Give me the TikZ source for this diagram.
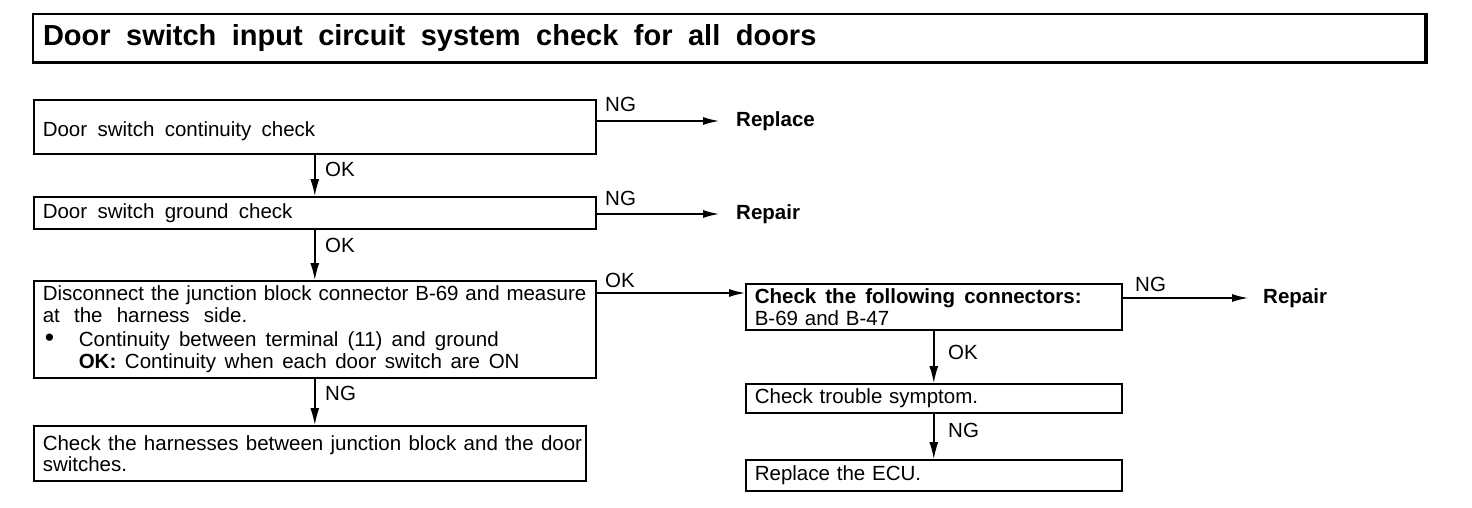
\documentclass[tikz,border=0pt]{standalone}
\usepackage{fontspec}
\setmainfont{Liberation Sans}
\usetikzlibrary{arrows.meta,calc}
\newcommand{\wsp}[2]{{\spaceskip=#1\relax #2}}
\begin{document}
\begin{tikzpicture}[x=1pt,y=-1pt,
  box/.style={draw,line width=1.6pt,anchor=north west,align=left,inner xsep=9pt,inner ysep=0pt,
    font=\fontsize{20.5}{22}\selectfont},
  lbl/.style={font=\fontsize{20.5}{22}\selectfont,inner sep=0pt,anchor=west},
  res/.style={font=\fontsize{20.5}{22}\selectfont\bfseries,inner sep=0pt,anchor=west},
  arr/.style={line width=1.4pt,-{Latex[length=16pt,width=8pt]}},
  varr/.style={line width=1.4pt,-{Latex[length=17pt,width=9pt]}},
]
\useasboundingbox (0,0) rectangle (1472,508);

% title
\node[draw,line width=2pt,anchor=north west,minimum width=1392pt,minimum height=48pt,
      text width=1372pt,inner xsep=10pt,align=left,
      font=\fontsize{29}{30}\selectfont\bfseries] (title) at (32,13)
      {\wsp{15.5pt}{Door switch input circuit system check for all doors}};
\draw[line width=3pt] (title.north east) -- (title.south east) -- (title.south west);

% left column
\node[box,text width=544pt,minimum height=54pt] (b1) at (33,99)
  {\raisebox{-10pt}[0pt][0pt]{\wsp{10.3pt}{Door switch continuity check}}};
\node[box,text width=544pt,minimum height=32pt] (b2) at (33,196)
  {\wsp{10.3pt}{Door switch ground check}};
\node[box,text width=544pt,minimum height=97pt] (b3) at (33,280)
  {\mbox{Disconnect the junction block connector B-69 and measure}\\
   \wsp{14.2pt}{at the harness side.}\\[2pt]
   \makebox[36pt][l]{\hspace{2pt}\raisebox{0pt}[0pt][0pt]{\scalebox{1.3}{\textbullet}}}\wsp{9.1pt}{Continuity between terminal (11) and ground}\\
   \hspace*{36pt}\wsp{8.6pt}{\textbf{OK:} Continuity when each door switch are ON}};
\node[box,text width=534pt,minimum height=55pt] (b7) at (33,425)
  {\mbox{\wsp{7.3pt}{Check the harnesses between junction block and the door}}\\[-1pt] switches.};

% right column
\node[box,text width=358pt,minimum height=46pt] (b4) at (745,283)
  {\wsp{9.1pt}{\textbf{Check the following connectors:}}\\ B-69 and B-47};
\node[box,text width=358pt,minimum height=29pt] (b5) at (745,383) {Check trouble symptom.};
\node[box,text width=358pt,minimum height=31pt] (b6) at (745,459) {Replace the ECU.};

% results
\node[res] (rep1) at (736,121) {Replace};
\node[res] (rep2) at (736,214) {Repair};
\node[res] (rep3) at (1263,298) {Repair};

% connectors
\draw[arr,shorten >=17pt] (b1.east |- rep1) -- (rep1.west);
\draw[arr,shorten >=17pt] (b2.east |- rep2) -- (rep2.west);
\draw[arr] ([yshift=-13pt]b3.north east) -- ([yshift=-10pt]b4.north west);
\draw[arr,shorten >=15pt] (b4.east |- rep3) -- (rep3.west);

\draw[varr] (b1.south) -- (b2.north);
\draw[varr] (b2.south) -- (b3.north);
\draw[varr] (b3.south) -- (b3.south |- b7.north);
\draw[varr] (b4.south) -- (b5.north);
\draw[varr] (b5.south) -- (b6.north);

% labels
\node[lbl] (ng1) at (605,104) {NG};
\node[lbl] (ng2) at (605,198) {NG};
\node[lbl] (ok3) at (605,280) {OK};
\node[lbl] (ng4) at (1135,284) {NG};
\node[lbl] (ok1) at (325,169) {OK};
\node[lbl] (ok2) at (325,245) {OK};
\node[lbl] (ng3) at (325,393) {NG};
\node[lbl] (ok5) at (948,352) {OK};
\node[lbl] (ng6) at (948,430) {NG};
\end{tikzpicture}
\end{document}
